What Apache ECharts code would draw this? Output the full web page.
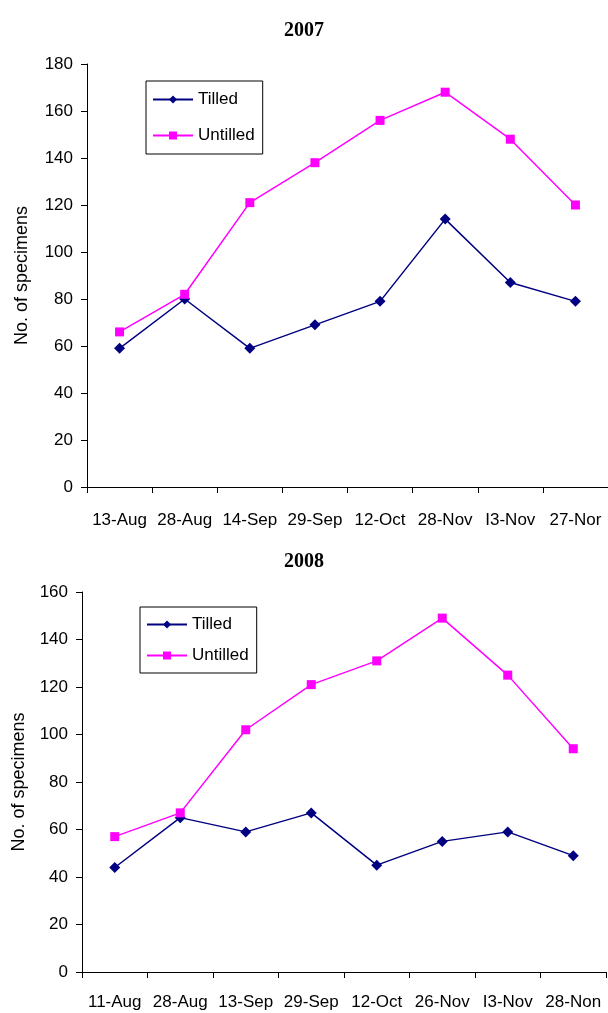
<!DOCTYPE html>
<html><head><meta charset="utf-8">
<script src="https://cdn.jsdelivr.net/npm/echarts@6/dist/echarts.min.js"></script>
<style>html,body{margin:0;padding:0;background:#fff}#c{width:608px;height:1013px}</style>
</head><body><div id="c"></div>
<script>
const titles = ['2007', '2008'];
const cats2007 = ['13-Aug', '28-Aug', '14-Sep', '29-Sep', '12-Oct', '28-Nov', 'I3-Nov', '27-Nor'];
const tilled2007 = [59, 80, 59, 69, 79, 114, 87, 79];
const untilled2007 = [66, 82, 121, 138, 156, 168, 148, 120];
const cats2008 = ['11-Aug', '28-Aug', '13-Sep', '29-Sep', '12-Oct', '26-Nov', 'I3-Nov', '28-Non'];
const tilled2008 = [44, 65, 59, 67, 45, 55, 59, 49];
const untilled2008 = [57, 67, 102, 121, 131, 149, 125, 94];
const yName = 'No. of specimens';

const F = 'Liberation Sans, Arial, sans-serif';
const axisLine = {lineStyle: {color: '#000', width: 1}};
function xAxis(gi, cats, margin) {
  return {type: 'category', gridIndex: gi, data: cats, boundaryGap: true,
    axisLine: axisLine, axisTick: {show: true, alignWithLabel: false, length: 6, lineStyle: {color: '#000'}},
    axisLabel: {color: '#000', fontFamily: F, fontSize: 17, margin: margin, interval: 0},
    splitLine: {show: false}};
}
function yAxis(gi, max, gap) {
  return {type: 'value', gridIndex: gi, min: 0, max: max, interval: 20,
    name: yName, nameLocation: 'middle', nameGap: gap, nameRotate: 90,
    nameTextStyle: {color: '#000', fontFamily: F, fontSize: 18},
    axisLine: {show: true, lineStyle: {color: '#000'}},
    axisTick: {show: true, length: 6, lineStyle: {color: '#000'}},
    axisLabel: {color: '#000', fontFamily: F, fontSize: 17, margin: 14},
    splitLine: {show: false}};
}
function ser(name, gi, data, color, sym) {
  return {name: name, type: 'line', xAxisIndex: gi, yAxisIndex: gi, data: data,
    symbol: sym, symbolSize: sym === 'diamond' ? 11 : 9, showAllSymbol: true,
    lineStyle: {color: color, width: 1.5}, itemStyle: {color: color}, animation: false};
}
const legendCommon = {orient: 'vertical', borderColor: '#000', borderWidth: 1,
  itemWidth: 40, itemHeight: 10, itemGap: 19, padding: [10, 8, 10, 6],
  textStyle: {color: '#000', fontFamily: F, fontSize: 17}, data: ['Tilled', 'Untilled']};

const chart = echarts.init(document.getElementById('c'));
chart.setOption({
  backgroundColor: '#fff',
  animation: false,
  title: [
    {text: titles[0], left: 'center', top: 16, textStyle: {fontFamily: 'Liberation Serif, Times New Roman, serif', fontWeight: 'bold', fontSize: 20, color: '#000'}},
    {text: titles[1], left: 'center', top: 547, textStyle: {fontFamily: 'Liberation Serif, Times New Roman, serif', fontWeight: 'bold', fontSize: 20, color: '#000'}}
  ],
  legend: [
    Object.assign({}, legendCommon, {left: 146, top: 81}),
    Object.assign({}, legendCommon, {left: 140, top: 607, itemGap: 14, padding: [9, 8, 9, 6]})
  ],
  grid: [
    {left: 87, top: 64, height: 423, right: -7},
    {left: 82, top: 592, height: 380, right: 2}
  ],
  xAxis: [xAxis(0, cats2007, 25), xAxis(1, cats2008, 22)],
  yAxis: [yAxis(0, 180, 56), yAxis(1, 160, 54)],
  series: [
    ser('Tilled', 0, tilled2007, '#000080', 'diamond'),
    ser('Untilled', 0, untilled2007, '#FF00FF', 'rect'),
    ser('Tilled', 1, tilled2008, '#000080', 'diamond'),
    ser('Untilled', 1, untilled2008, '#FF00FF', 'rect')
  ]
});
</script></body></html>
